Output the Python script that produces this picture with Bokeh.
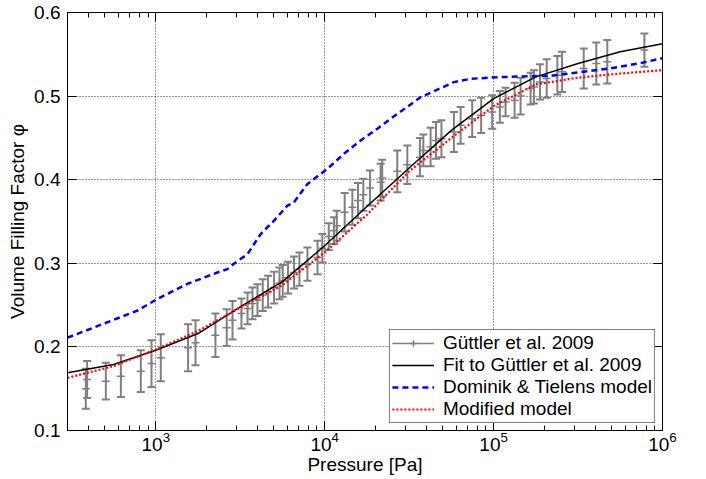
from bokeh.plotting import figure
from bokeh.models import (ColumnDataSource, Whisker, TeeHead, LogAxis, LinearAxis,
                          FixedTicker, Legend, LegendItem, Range1d)
from bokeh.embed import file_html
from bokeh.resources import INLINE

# ---------------- data ----------------
# Güttler et al. 2009 measurements
guettler_p = [385, 392, 506, 621, 815, 943, 1070, 1553, 1718, 2254, 2630, 2845,
              3214, 3492, 3735, 3999, 4296, 4620, 5015, 5398, 5642, 6064, 6583,
              7085, 7903, 9064, 9680, 10570, 11360, 11780, 13130, 14580, 15740,
              16930, 18530, 21440, 21900, 26900, 30840, 36620, 38370, 42360,
              45600, 49110, 58200, 63800, 74680, 84390, 98100, 108900, 117700,
              133100, 144500, 165600, 173300, 188200, 206300, 238500, 254300,
              341700, 405700, 471100, 781500]
guettler_phi = [0.150, 0.161, 0.159, 0.165, 0.171, 0.180, 0.187, 0.199, 0.205,
                0.214, 0.223, 0.232, 0.240, 0.246, 0.252, 0.256, 0.262, 0.266,
                0.271, 0.276, 0.279, 0.283, 0.289, 0.293, 0.299, 0.307, 0.318,
                0.332, 0.339, 0.345, 0.361, 0.367, 0.375, 0.382, 0.390, 0.397,
                0.402, 0.410, 0.418, 0.427, 0.435, 0.439, 0.447, 0.449, 0.457,
                0.465, 0.473, 0.477, 0.481, 0.487, 0.493, 0.495, 0.500, 0.509,
                0.511, 0.517, 0.521, 0.525, 0.529, 0.533, 0.539, 0.541, 0.555]
guettler_err = [0.024, 0.022, 0.022, 0.025, 0.025, 0.028, 0.028, 0.028, 0.027,
                0.026, 0.022, 0.023, 0.018, 0.019, 0.019, 0.019, 0.019, 0.019,
                0.019, 0.019, 0.019, 0.019, 0.019, 0.020, 0.020, 0.020, 0.017,
                0.016, 0.016, 0.018, 0.023, 0.021, 0.021, 0.019, 0.021, 0.022,
                0.022, 0.025, 0.023, 0.023, 0.019, 0.023, 0.022, 0.022, 0.024,
                0.022, 0.022, 0.021, 0.020, 0.019, 0.017, 0.021, 0.022, 0.019,
                0.020, 0.021, 0.023, 0.023, 0.024, 0.024, 0.025, 0.026, 0.020]

# Fit to Güttler et al. 2009
fit_p = [300, 562, 1000, 1778, 3162, 5623, 10000, 17783, 31623, 56234,
         100000, 177828, 316228, 562341, 1000000]
fit_phi = [0.169, 0.179, 0.196, 0.216, 0.248, 0.278, 0.321, 0.368, 0.414,
           0.459, 0.497, 0.523, 0.539, 0.553, 0.5625]

# Dominik & Tielens model
dt_p = [300, 780, 1023, 1542, 2317, 2655, 2897, 3491, 4178, 5012, 6012, 6577,
        7907, 10375, 13002, 16331, 20512, 24604, 36983, 58210, 73114, 105196,
        144544, 226464, 470977, 741310, 1000000]
dt_phi = [0.211, 0.2435, 0.2575, 0.2755, 0.289, 0.293, 0.2994, 0.311, 0.335,
          0.351, 0.369, 0.373, 0.395, 0.413, 0.431, 0.447, 0.461, 0.473,
          0.4987, 0.5167, 0.5207, 0.5226, 0.5234, 0.5246, 0.5326, 0.5394, 0.5454]

# Modified model
mod_p = [300, 562, 1000, 1778, 3162, 5623, 10000, 17783, 31623, 56234,
         100000, 177828, 316228, 562341, 1000000]
mod_phi = [0.163, 0.177, 0.197, 0.219, 0.247, 0.274, 0.313, 0.358, 0.410,
           0.450, 0.488, 0.514, 0.522, 0.527, 0.531]

x_major = [1e3, 1e4, 1e5, 1e6]
x_minor = [k * 10 ** e for e in (2, 3, 4, 5) for k in range(2, 10)]
y_major = [0.1, 0.2, 0.3, 0.4, 0.5, 0.6]

FONT = "Liberation Sans"
FS = "19px"
GRAY = "#808080"

# ---------------- figure ----------------
p = figure(width=704, height=477, x_axis_type="log",
           x_range=Range1d(300, 1e6), y_range=Range1d(0.1, 0.6),
           output_backend="svg", toolbar_location=None,
           min_border_left=67, min_border_right=42,
           min_border_top=12, min_border_bottom=47)

p.outline_line_color = "black"
p.outline_line_width = 1
p.background_fill_color = "white"
p.border_fill_color = "white"

p.xaxis.ticker = FixedTicker(ticks=x_major, minor_ticks=x_minor)
p.yaxis.ticker = FixedTicker(ticks=y_major, minor_ticks=[])

for ax in (p.xaxis[0], p.yaxis[0]):
    ax.axis_line_color = "black"
    ax.major_tick_line_color = "black"
    ax.minor_tick_line_color = "black"
    ax.major_tick_in = 9
    ax.major_tick_out = 0
    ax.minor_tick_in = 5
    ax.minor_tick_out = 0
    ax.major_label_text_font = FONT
    ax.major_label_text_font_size = FS
    ax.major_label_text_color = "black"
    ax.axis_label_text_font = FONT
    ax.axis_label_text_font_size = FS
    ax.axis_label_text_font_style = "normal"
    ax.axis_label_text_color = "black"

p.xaxis.axis_label = "Pressure [Pa]"
p.yaxis.axis_label = "Volume Filling Factor φ"
p.xaxis.major_label_standoff = 1
p.xaxis.axis_label_standoff = 0
p.yaxis.major_label_standoff = 7
p.yaxis.axis_label_standoff = 3

top = LogAxis(ticker=FixedTicker(ticks=x_major, minor_ticks=x_minor),
              major_label_text_font_size="1px", major_label_text_alpha=0,
              major_label_standoff=0,
              major_tick_in=9, major_tick_out=0, minor_tick_in=5, minor_tick_out=0,
              axis_line_color="black")
p.add_layout(top, "above")
right = LinearAxis(ticker=FixedTicker(ticks=y_major, minor_ticks=[]),
                   major_label_text_font_size="1px", major_label_text_alpha=0,
                   major_label_standoff=0,
                   major_tick_in=9, major_tick_out=0, minor_tick_in=0, minor_tick_out=0,
                   axis_line_color="black")
p.add_layout(right, "right")

p.xgrid.grid_line_color = "#333333"
p.xgrid.grid_line_dash = "1 2"
p.ygrid.grid_line_color = "#333333"
p.ygrid.grid_line_dash = "1 2"
p.xgrid.ticker = FixedTicker(ticks=x_major, minor_ticks=[])
p.ygrid.ticker = FixedTicker(ticks=y_major, minor_ticks=[])

# ---------------- data renderers ----------------
src = ColumnDataSource(dict(
    p=guettler_p, phi=guettler_phi,
    lower=[a - b for a, b in zip(guettler_phi, guettler_err)],
    upper=[a + b for a, b in zip(guettler_phi, guettler_err)],
))
whisk = Whisker(source=src, base="p", upper="upper", lower="lower",
                line_color=GRAY, line_width=2,
                upper_head=TeeHead(size=8, line_color=GRAY, line_width=2),
                lower_head=TeeHead(size=8, line_color=GRAY, line_width=2))
p.add_layout(whisk)
pts = p.scatter("p", "phi", source=src, marker="cross", size=8,
                line_color=GRAY, line_width=1.5)
# single-point line: draws nothing in the plot, only used for the legend sample
leg_line = p.line(x=guettler_p[:1], y=guettler_phi[:1], line_color=GRAY, line_width=1.5)

fit_r = p.line(fit_p, fit_phi, line_color="black", line_width=1.5)
dt_r = p.line(dt_p, dt_phi, line_color="#0000ff", line_width=2.5, line_dash="6 4")
mod_r = p.line(mod_p, mod_phi, line_color="#ff0000", line_width=2.2, line_dash="2 2")

legend = Legend(items=[
    LegendItem(label="Güttler et al. 2009", renderers=[leg_line, pts]),
    LegendItem(label="Fit to Güttler et al. 2009", renderers=[fit_r]),
    LegendItem(label="Dominik & Tielens model", renderers=[dt_r]),
    LegendItem(label="Modified model", renderers=[mod_r]),
], location="bottom_right")
legend.label_text_font = FONT
legend.label_text_font_size = FS
legend.label_text_line_height = 1.0
legend.label_text_color = "black"
legend.glyph_width = 42
legend.glyph_height = 16
legend.label_height = 16
legend.label_width = 208
legend.label_standoff = 9
legend.spacing = 0
legend.padding = 2
legend.margin = 7
legend.border_line_color = "black"
legend.border_line_width = 1
legend.background_fill_color = "white"
legend.background_fill_alpha = 1.0
p.add_layout(legend)

open("out.html", "w").write(file_html(p, INLINE))
